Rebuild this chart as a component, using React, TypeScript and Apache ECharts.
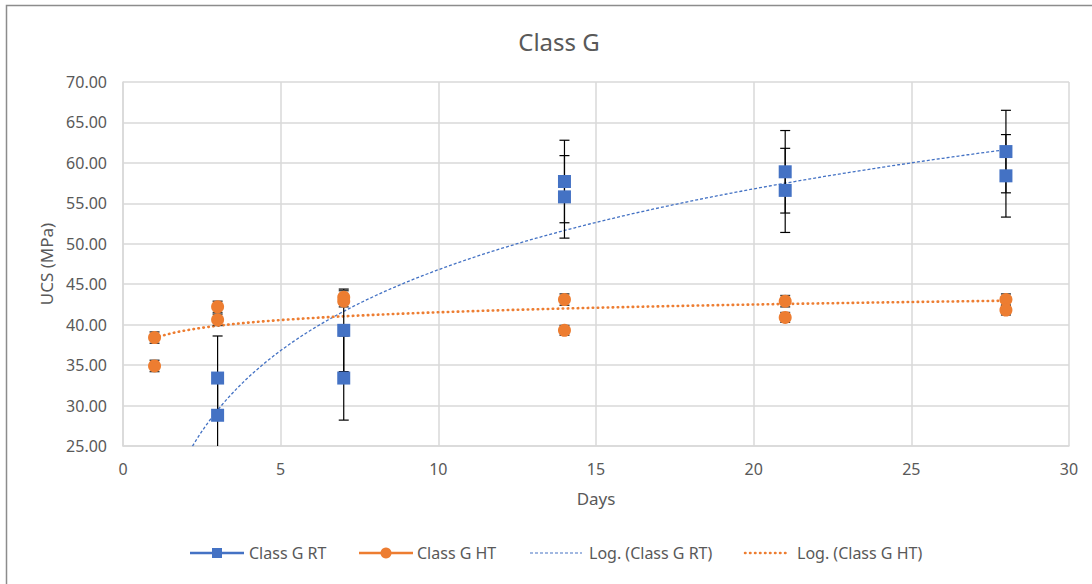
import React, { useEffect, useRef } from "react";
import * as echarts from "echarts";

// Unconfined compressive strength of Class G cement, two specimens per curing age
const rtDays = [3, 3, 7, 7, 14, 14, 21, 21, 28, 28];
const rtUcs = [33.4, 28.8, 39.3, 33.4, 57.7, 55.8, 58.9, 56.6, 61.4, 58.4];
const rtErr = [5.2, 5.2, 5.1, 5.2, 5.1, 5.1, 5.1, 5.2, 5.1, 5.1];

const htDays = [1, 1, 3, 3, 7, 7, 14, 14, 21, 21, 28, 28];
const htUcs = [38.4, 34.9, 42.2, 40.6, 43.4, 42.9, 43.1, 39.3, 42.9, 40.9, 43.1, 41.8];
const htErr = [0.7, 0.7, 0.7, 0.7, 0.8, 0.7, 0.7, 0.6, 0.7, 0.6, 0.7, 0.6];

const xTicks = { min: 0, max: 30, interval: 5 };
const yTicks = { min: 25, max: 70, interval: 5 };

const BLUE = "#4472C4";
const ORANGE = "#ED7D31";
const GREY_TEXT = "#595959";
const FONT = "Noto Sans";

// Least-squares fit of y = a*ln(x) + b
function fitLog(xs: number[], ys: number[]) {
  const lx = xs.map((x) => Math.log(x));
  const n = xs.length;
  const mx = lx.reduce((s, v) => s + v, 0) / n;
  const my = ys.reduce((s, v) => s + v, 0) / n;
  let num = 0;
  let den = 0;
  for (let i = 0; i < n; i++) {
    num += (lx[i] - mx) * (ys[i] - my);
    den += (lx[i] - mx) * (lx[i] - mx);
  }
  const a = num / den;
  return { a, b: my - a * mx };
}

function trendCurve(xs: number[], ys: number[], from: number, to: number) {
  const { a, b } = fitLog(xs, ys);
  const pts: number[][] = [];
  for (let x = from; x <= to + 1e-9; x += 0.1) {
    pts.push([x, a * Math.log(x) + b]);
  }
  return pts;
}

function errorData(xs: number[], ys: number[], es: number[]) {
  return xs.map((x, i) => [x, ys[i] - es[i], ys[i] + es[i]]);
}

function errorSeries(data: number[][], color: string, width: number) {
  return {
    type: "custom",
    data,
    encode: { x: 0, y: [1, 2] },
    silent: true,
    z: 3,
    renderItem: (params: any, api: any) => {
      const x = api.value(0);
      const top = api.coord([x, api.value(2)]);
      const bot = api.coord([x, api.value(1)]);
      const cs = params.coordSys;
      const yMin = cs.y;
      const yMax = cs.y + cs.height;
      const y1 = Math.max(top[1], yMin);
      const y2 = Math.min(bot[1], yMax);
      const half = 5;
      const style = { stroke: color, lineWidth: width };
      const children: any[] = [
        { type: "line", shape: { x1: top[0], y1, x2: top[0], y2 }, style },
      ];
      if (top[1] >= yMin) {
        children.push({
          type: "line",
          shape: { x1: top[0] - half, y1: top[1], x2: top[0] + half, y2: top[1] },
          style,
        });
      }
      if (bot[1] <= yMax) {
        children.push({
          type: "line",
          shape: { x1: bot[0] - half, y1: bot[1], x2: bot[0] + half, y2: bot[1] },
          style,
        });
      }
      return { type: "group", children };
    },
  };
}

function legendGraphics() {
  const cy = 553;
  const text = (x: number, s: string) => ({
    type: "text",
    x,
    y: cy,
    style: { text: s, fill: GREY_TEXT, font: `16px "${FONT}"`, verticalAlign: "middle", align: "left" },
  });
  return [
    { type: "line", shape: { x1: 190, y1: cy, x2: 244, y2: cy }, style: { stroke: BLUE, lineWidth: 2.5 } },
    { type: "rect", shape: { x: 212, y: cy - 5, width: 10, height: 10 }, style: { fill: BLUE } },
    text(249, "Class G RT"),
    { type: "line", shape: { x1: 359, y1: cy, x2: 413, y2: cy }, style: { stroke: ORANGE, lineWidth: 2.5 } },
    { type: "circle", shape: { cx: 386, cy, r: 5.5 }, style: { fill: ORANGE } },
    text(417, "Class G HT"),
    {
      type: "line",
      shape: { x1: 530, y1: cy, x2: 582, y2: cy },
      style: { stroke: BLUE, lineWidth: 1.2, lineDash: [3, 2] },
    },
    text(589, "Log. (Class G RT)"),
    {
      type: "line",
      shape: { x1: 745, y1: cy, x2: 790, y2: cy },
      style: { stroke: ORANGE, lineWidth: 2.5, lineDash: [0.5, 4.5], lineCap: "round" },
    },
    text(797, "Log. (Class G HT)"),
  ];
}

export default function App() {
  const ref = useRef<HTMLDivElement>(null);

  useEffect(() => {
    if (!ref.current) return;
    const chart = echarts.init(ref.current, undefined, { renderer: "svg" });
    const option: any = {
      animation: false,
      backgroundColor: "#ffffff",
      textStyle: { fontFamily: FONT },
      title: {
        text: "Class G",
        left: 554,
        top: 24,
        textAlign: "center",
        textStyle: { color: GREY_TEXT, fontSize: 24, fontWeight: "normal", fontFamily: FONT },
      },
      grid: { left: 123, top: 82, right: 23, bottom: 138 },
      xAxis: {
        type: "value",
        min: xTicks.min,
        max: xTicks.max,
        interval: xTicks.interval,
        name: "Days",
        nameLocation: "middle",
        nameGap: 44,
        nameTextStyle: { color: GREY_TEXT, fontSize: 17, fontFamily: FONT },
        axisLine: { show: true, lineStyle: { color: "#d9d9d9", width: 1.5 } },
        axisTick: { show: false },
        axisLabel: { color: GREY_TEXT, fontSize: 16, margin: 15, fontFamily: FONT },
        splitLine: { show: true, lineStyle: { color: "#d9d9d9", width: 1.5 } },
      },
      yAxis: {
        type: "value",
        min: yTicks.min,
        max: yTicks.max,
        interval: yTicks.interval,
        name: "UCS (MPa)",
        nameLocation: "middle",
        nameGap: 68,
        nameRotate: 90,
        nameTextStyle: { color: GREY_TEXT, fontSize: 17, fontFamily: FONT },
        axisLine: { show: true, lineStyle: { color: "#d9d9d9", width: 1.5 } },
        axisTick: { show: false },
        axisLabel: {
          color: GREY_TEXT,
          fontSize: 16,
          margin: 16,
          fontFamily: FONT,
          formatter: (v: number) => v.toFixed(2),
        },
        splitLine: { show: true, lineStyle: { color: "#d9d9d9", width: 1.5 } },
      },
      graphic: [
        {
          type: "rect",
          shape: { x: 6.5, y: 5.5, width: 1200, height: 700 },
          style: { fill: "none", stroke: "#8c8c8c", lineWidth: 1.5 },
          silent: true,
        },
        ...legendGraphics(),
      ],
      series: [
        {
          name: "Log. (Class G RT)",
          type: "line",
          data: trendCurve(rtDays, rtUcs, 1, 28),
          showSymbol: false,
          clip: true,
          z: 2,
          lineStyle: { color: BLUE, width: 1.3, type: [3, 2] },
        },
        {
          name: "Log. (Class G HT)",
          type: "line",
          data: trendCurve(htDays, htUcs, 1, 28),
          showSymbol: false,
          clip: true,
          z: 2,
          lineStyle: { color: ORANGE, width: 2.6, type: [0.5, 4.5], cap: "round" },
        },
        errorSeries(errorData(rtDays, rtUcs, rtErr), "#000000", 1.2),
        errorSeries(errorData(htDays, htUcs, htErr), "#404040", 1.5),
        {
          name: "Class G RT",
          type: "scatter",
          data: rtDays.map((d, i) => [d, rtUcs[i]]),
          symbol: "rect",
          symbolSize: 13,
          z: 4,
          itemStyle: { color: BLUE, opacity: 1 },
        },
        {
          name: "Class G HT",
          type: "scatter",
          data: htDays.map((d, i) => [d, htUcs[i]]),
          symbol: "circle",
          symbolSize: 13,
          z: 4,
          itemStyle: { color: ORANGE, opacity: 1 },
        },
      ],
    };
    chart.setOption(option);
    return () => chart.dispose();
  }, []);

  return (
    <div
      ref={ref}
      style={{ position: "fixed", left: 0, top: 0, width: 1092, height: 584 }}
    />
  );
}
